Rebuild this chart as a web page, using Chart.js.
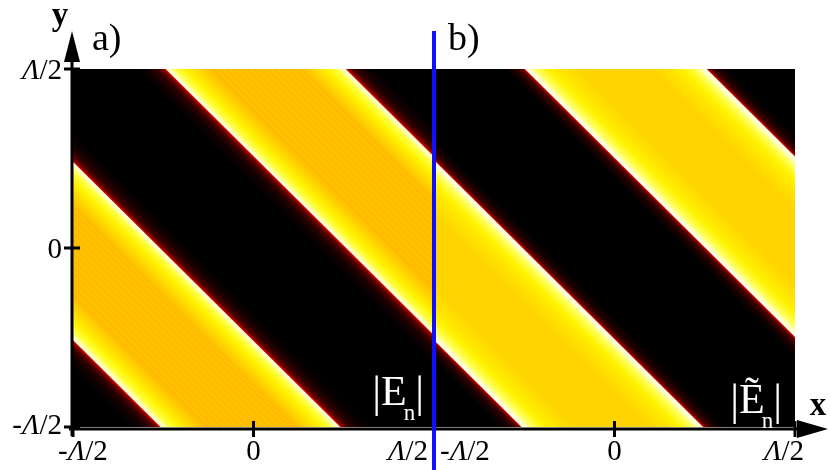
<!DOCTYPE html>
<html>
<head>
<meta charset="utf-8">
<script src="https://cdn.jsdelivr.net/npm/chart.js@4.4.1/dist/chart.umd.min.js"></script>
<style>
  html, body { margin: 0; padding: 0; background: #fff; overflow: hidden; }
</style>
</head>
<body>
<canvas id="field" width="831" height="470"></canvas>
<script>
// both panels share one x axis, in units of Λ; panel a is centred on 0, panel b on 1
const panelCenters = [0, 1];
const panelNames = ["a)", "b)"];
const fieldNames = ["E", "Ẽ"];
// stripe boundaries, given as the value of x + y where the field switches dark <-> bright
const edgesA = [-0.757, -0.26, 0.257, 0.755];
const edgesB = [-0.757, -0.255, 0.252, 0.755];
const tickOffsets = [-0.5, 0, 0.5];
const xTickLabels = ["-Λ/2", "0", "Λ/2"];
const yTicks = [-0.5, 0, 0.5];
const yTickLabels = ["-Λ/2", "0", "Λ/2"];

// colour map looks, distance from a stripe edge (in x+y) -> colour
const looks = [
  {
    bright: [[0, "#fffff2"], [0.01, "#ffffb8"], [0.026, "#ffff40"], [0.055, "#fff200"], [0.085, "#ffda00"], [0.12, "#ffc000"]],
    mid: ["#ffb800", "#ffc400"], ripple: 0.0095,
    dark: [[0, "#e82400"], [0.005, "#a80000"], [0.013, "#640000"], [0.028, "#300000"], [0.05, "#120000"], [0.085, "#000000"]]
  },
  {
    bright: [[0, "#ffffff"], [0.012, "#ffffcc"], [0.03, "#ffff5a"], [0.065, "#fff300"], [0.105, "#ffe200"], [0.15, "#ffd500"]],
    mid: ["#ffd400", "#ffd400"], ripple: 0.05,
    dark: [[0, "#f03000"], [0.004, "#a00000"], [0.012, "#500000"], [0.03, "#1e0000"], [0.06, "#000000"]]
  }
];

const SERIF = '"Liberation Serif", "DejaVu Serif", serif';

// upper and lower outline of the band c1 <= x+y <= c2 inside one square panel
function bandChains(center, c1, c2) {
  const lo = Math.max(-0.5, c1 - 0.5), hi = Math.min(0.5, c2 + 0.5);
  let knots = [lo, hi, c2 - 0.5, c1 + 0.5].filter(u => u >= lo && u <= hi).sort((a, b) => a - b);
  knots = knots.filter((u, i) => i === 0 || u - knots[i - 1] > 1e-9);
  const top = knots.map(u => ({ x: center + u, y: Math.min(0.5, c2 - u) }));
  const bottom = knots.map(u => ({ x: center + u, y: Math.max(-0.5, c1 - u) }));
  return [top, bottom];
}

function brightStops(look, c1, c2) {
  const s = [];
  look.bright.forEach(([d, col]) => { s.push([c1 + d, col]); s.push([c2 - d, col]); });
  const inner = look.bright[look.bright.length - 1][0];
  let k = 0;
  for (let c = c1 + inner + look.ripple; c < c2 - inner; c += look.ripple) s.push([c, look.mid[k++ % 2]]);
  return s.sort((p, q) => p[0] - q[0]);
}

function darkStops(look, c1, c2, lowEdge, highEdge) {
  const s = [[(c1 + c2) / 2, "#000000"]];
  if (lowEdge) look.dark.forEach(([d, col]) => s.push([c1 + d, col]));
  if (highEdge) look.dark.forEach(([d, col]) => s.push([c2 - d, col]));
  return s.sort((p, q) => p[0] - q[0]);
}

// gradient running across the stripes, placed with the chart's own scales
function stripeFill(center, c1, c2, stops) {
  return (context) => {
    const chart = context.chart;
    const xs = chart.scales.x, ys = chart.scales.y;
    if (!chart.chartArea || !xs || !ys) return "#000";
    const sx = xs.getPixelForValue(center + 1) - xs.getPixelForValue(center);
    const sy = ys.getPixelForValue(0) - ys.getPixelForValue(1);
    const a = 1 / sx, b = -1 / sy;
    const px = xs.getPixelForValue(center + c1 / 2), py = ys.getPixelForValue(c1 / 2);
    const lam = (c2 - c1) / (a * a + b * b);
    const g = chart.ctx.createLinearGradient(px, py, px + lam * a, py + lam * b);
    for (const [c, col] of stops) {
      g.addColorStop(Math.min(1, Math.max(0, (c - c1) / (c2 - c1))), col);
    }
    return g;
  };
}

const brightSets = [], darkSets = [];
panelCenters.forEach((center, p) => {
  const edges = p === 0 ? edgesA : edgesB;
  const bounds = [-1.5, ...edges, 1.5];
  for (let i = 0; i < bounds.length - 1; i++) {
    const bright = i % 2 === 1;
    const c1 = bounds[i], c2 = bounds[i + 1];
    const pad = bright ? 0 : 0.004;
    const [top, bottom] = bandChains(center, c1 - pad, c2 + pad);
    const stops = bright ? brightStops(looks[p], c1, c2)
                         : darkStops(looks[p], c1, c2, i > 0, i < bounds.length - 2);
    (bright ? brightSets : darkSets).push(
      { data: top, fill: "+1", backgroundColor: stripeFill(center, c1, c2, stops), borderWidth: 0, pointRadius: 0 },
      { data: bottom, fill: false, borderWidth: 0, pointRadius: 0 }
    );
  }
});

function drawTex(ctx, text, x, y, size, align) {
  const parts = [...text].map(ch => ({ ch, font: (ch === "Λ" ? "italic " : "") + size + "px " + SERIF }));
  let w = 0;
  for (const p of parts) { ctx.font = p.font; p.w = ctx.measureText(p.ch).width; w += p.w; }
  let cx = align === "right" ? x - w : align === "center" ? x - w / 2 : x;
  ctx.textAlign = "left";
  for (const p of parts) { ctx.font = p.font; ctx.fillText(p.ch, cx, y); cx += p.w; }
}

function drawField(ctx, name, right, base) {
  const pieces = [
    { t: "|", f: "44px " + SERIF, dy: 2 },
    { t: name, f: "42px " + SERIF, dy: 0 },
    { t: "n", f: "23px " + SERIF, dy: 15, back: 3 },
    { t: "|", f: "44px " + SERIF, dy: 2 }
  ];
  let w = 0;
  for (const p of pieces) { ctx.font = p.f; p.w = ctx.measureText(p.t).width - (p.back || 0); w += p.w; }
  let cx = right - w;
  ctx.textAlign = "left";
  for (const p of pieces) {
    ctx.font = p.f;
    ctx.fillText(p.t, cx - (p.back || 0), base + p.dy);
    cx += p.w;
  }
}

const decor = {
  id: "decor",
  afterDraw(chart) {
    const ctx = chart.ctx, xs = chart.scales.x, ys = chart.scales.y, area = chart.chartArea;
    const axX = area.left - 1, axY = area.bottom + 2;
    ctx.save();
    ctx.fillStyle = "#000";
    ctx.strokeStyle = "#000";
    ctx.lineWidth = 3;
    ctx.lineCap = "butt";

    // axes with arrow heads
    ctx.beginPath();
    ctx.moveTo(axX, axY + 7); ctx.lineTo(axX, area.top - 8);
    ctx.moveTo(axX - 3, axY); ctx.lineTo(area.right + 3, axY);
    ctx.stroke();
    ctx.beginPath();
    ctx.moveTo(axX, area.top - 38); ctx.lineTo(axX - 8, area.top - 7); ctx.lineTo(axX + 8, area.top - 7);
    ctx.closePath(); ctx.fill();
    ctx.beginPath();
    ctx.moveTo(area.right + 33, axY); ctx.lineTo(area.right + 2, axY - 9); ctx.lineTo(area.right + 2, axY + 9);
    ctx.closePath(); ctx.fill();

    // ticks
    ctx.beginPath();
    yTicks.forEach(v => { const y = ys.getPixelForValue(v); ctx.moveTo(axX - 8, y); ctx.lineTo(axX + 8, y); });
    panelCenters.forEach(c => tickOffsets.forEach(o => {
      const x = xs.getPixelForValue(c + o); ctx.moveTo(x, axY - 8); ctx.lineTo(x, axY + 8);
    }));
    ctx.stroke();

    // tick labels
    ctx.textBaseline = "alphabetic";
    yTicks.forEach((v, i) => {
      const y = ys.getPixelForValue(v);
      drawTex(ctx, yTickLabels[i], axX - 10, y + (i === 0 ? 7 : 10), 29, "right");
    });
    panelCenters.forEach((c, p) => tickOffsets.forEach((o, i) => {
      const x = xs.getPixelForValue(c + o);
      const outer = (p === 0 && i === 0) || (p === panelCenters.length - 1 && i === tickOffsets.length - 1);
      if (i === 0) drawTex(ctx, xTickLabels[i], x + (outer ? -15 : 6), axY + 31, 29, "left");
      else if (i === tickOffsets.length - 1) drawTex(ctx, xTickLabels[i], x + (outer ? 9 : -6), axY + 31, 29, "right");
      else drawTex(ctx, xTickLabels[i], x, axY + 31, 29, "center");
    }));

    // axis names
    ctx.font = "bold 33px " + SERIF;
    ctx.textAlign = "center";
    ctx.fillText("y", axX - 12, area.top - 44);
    ctx.fillText("x", area.right + 23, axY - 14);

    // panel names and field labels
    const nameDx = [19, 14];
    const fieldRight = [10, 13];
    const fieldBase = [22, 14];
    panelCenters.forEach((c, p) => {
      const left = xs.getPixelForValue(c - 0.5), right = xs.getPixelForValue(c + 0.5);
      ctx.fillStyle = "#000";
      ctx.font = "38px " + SERIF;
      ctx.textAlign = "left";
      ctx.fillText(panelNames[p], left + nameDx[p], area.top - 19);
      ctx.fillStyle = "#fff";
      drawField(ctx, fieldNames[p], right - fieldRight[p], area.bottom - fieldBase[p]);
    });

    // blue divider between the panels
    const xb = xs.getPixelForValue((panelCenters[0] + panelCenters[1]) / 2);
    ctx.strokeStyle = "#1010ff";
    ctx.lineWidth = 4;
    ctx.beginPath();
    ctx.moveTo(xb, area.top - 38);
    ctx.lineTo(xb, chart.height);
    ctx.stroke();
    ctx.restore();
  }
};

new Chart(document.getElementById("field"), {
  type: "line",
  data: { datasets: [...brightSets, ...darkSets] },
  options: {
    responsive: false,
    animation: false,
    parsing: false,
    layout: { padding: { left: 73, right: 36, top: 69, bottom: 43 } },
    scales: {
      x: { type: "linear", min: -0.5, max: 1.5, display: false },
      y: { type: "linear", min: -0.5, max: 0.5, display: false }
    },
    plugins: { legend: { display: false }, tooltip: { enabled: false } },
    elements: { line: { tension: 0 } }
  },
  plugins: [decor]
});
</script>
</body>
</html>
